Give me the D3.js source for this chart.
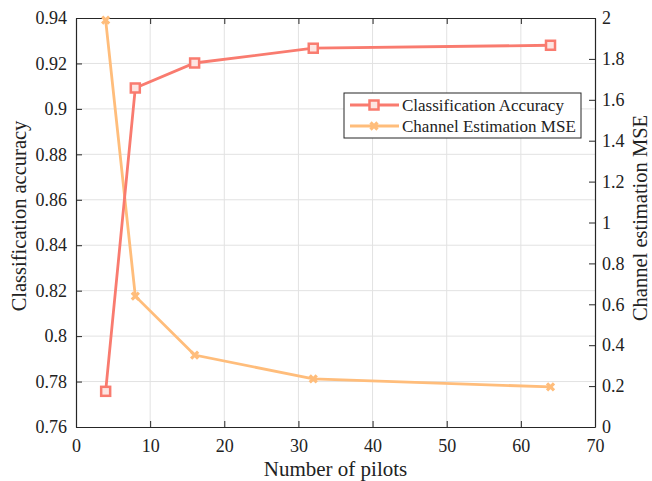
<!DOCTYPE html>
<html>
<head>
<meta charset="utf-8">
<script src="https://cdn.jsdelivr.net/npm/d3@7"></script>
<style>
  body { margin: 0; background: #fff; }
  text { font-family: "Liberation Serif", "Times New Roman", serif; fill: #222; }
</style>
</head>
<body>
<div id="chart"></div>
<script>
// data
const pilots = [4, 8, 16, 32, 64];
const accuracy = [0.7757, 0.9092, 0.9202, 0.9267, 0.9280];
const mse = [1.99, 0.64, 0.352, 0.235, 0.196];

const xTicks = [0, 10, 20, 30, 40, 50, 60, 70];
const yLeftTicks = [0.76, 0.78, 0.8, 0.82, 0.84, 0.86, 0.88, 0.9, 0.92, 0.94];
const yRightTicks = [0, 0.2, 0.4, 0.6, 0.8, 1, 1.2, 1.4, 1.6, 1.8, 2];

const width = 652, height = 481;
const m = { left: 76, right: 57, top: 18, bottom: 54 };
const accColor = "#f97b6f";
const mseColor = "#ffbd7b";

const svg = d3.select("#chart").append("svg")
    .attr("width", width)
    .attr("height", height);

const x = d3.scaleLinear().domain([0, 70]).range([m.left, width - m.right]);
const yL = d3.scaleLinear().domain([0.76, 0.94]).range([height - m.bottom, m.top]);
const yR = d3.scaleLinear().domain([0, 2]).range([height - m.bottom, m.top]);

// grid
const grid = svg.append("g").attr("stroke", "#e2e2e2").attr("stroke-width", 1);
xTicks.slice(1, -1).forEach(t => {
    grid.append("line").attr("x1", x(t)).attr("x2", x(t)).attr("y1", m.top).attr("y2", height - m.bottom);
});
yLeftTicks.slice(1, -1).forEach(t => {
    grid.append("line").attr("x1", m.left).attr("x2", width - m.right).attr("y1", yL(t)).attr("y2", yL(t));
});

// axes (ticks point inwards)
const fmt = d => d3.format("~g")(d);
const axBottom = svg.append("g")
    .attr("transform", `translate(0,${height - m.bottom})`)
    .call(d3.axisBottom(x).tickValues(xTicks).tickSizeInner(-6).tickSizeOuter(0).tickPadding(12).tickFormat(fmt));
const axTop = svg.append("g")
    .attr("transform", `translate(0,${m.top})`)
    .call(d3.axisTop(x).tickValues(xTicks).tickSizeInner(-6).tickSizeOuter(0).tickFormat(""));
const axLeft = svg.append("g")
    .attr("transform", `translate(${m.left},0)`)
    .call(d3.axisLeft(yL).tickValues(yLeftTicks).tickSizeInner(-6).tickSizeOuter(0).tickPadding(9).tickFormat(fmt));
const axRight = svg.append("g")
    .attr("transform", `translate(${width - m.right},0)`)
    .call(d3.axisRight(yR).tickValues(yRightTicks).tickSizeInner(-6).tickSizeOuter(0).tickPadding(7).tickFormat(fmt));

[axBottom, axTop, axLeft, axRight].forEach(g => {
    g.select(".domain").attr("stroke", "#262626").attr("stroke-width", 1.2);
    g.selectAll(".tick line").attr("stroke", "#262626");
    g.selectAll("text").attr("font-size", 18).attr("fill", "#222")
        .style("font-family", "'Liberation Serif', serif");
});

// axis titles
svg.append("text")
    .attr("x", (m.left + width - m.right) / 2)
    .attr("y", 476)
    .attr("text-anchor", "middle")
    .attr("font-size", 21)
    .text("Number of pilots");
svg.append("text")
    .attr("transform", `translate(26,216) rotate(-90)`)
    .attr("text-anchor", "middle")
    .attr("font-size", 20.5)
    .text("Classification accuracy");
svg.append("text")
    .attr("transform", `translate(647,218) rotate(-90)`)
    .attr("text-anchor", "middle")
    .attr("font-size", 20.5)
    .text("Channel estimation MSE");

// lines
const accLine = d3.line().x((d, i) => x(pilots[i])).y(d => yL(d));
const mseLine = d3.line().x((d, i) => x(pilots[i])).y(d => yR(d));

svg.append("path").datum(mse)
    .attr("d", mseLine)
    .attr("fill", "none").attr("stroke", mseColor).attr("stroke-width", 2.8);
svg.append("path").datum(accuracy)
    .attr("d", accLine)
    .attr("fill", "none").attr("stroke", accColor).attr("stroke-width", 2.8);

// markers
function squareMarker(g, cx, cy) {
    g.append("rect")
        .attr("x", cx - 4.5).attr("y", cy - 4.5)
        .attr("width", 9).attr("height", 9)
        .attr("fill", "#fde5e2").attr("stroke", accColor).attr("stroke-width", 2.5);
}
function crossMarker(g, cx, cy) {
    const s = 3.5;
    g.append("path")
        .attr("d", `M${cx - s},${cy - s}L${cx + s},${cy + s}M${cx - s},${cy + s}L${cx + s},${cy - s}`)
        .attr("stroke", mseColor).attr("stroke-width", 3.2).attr("fill", "none");
}
const markers = svg.append("g");
mse.forEach((d, i) => crossMarker(markers, x(pilots[i]), yR(d)));
accuracy.forEach((d, i) => squareMarker(markers, x(pilots[i]), yL(d)));

// legend
const lg = svg.append("g").attr("transform", "translate(344,93)");
lg.append("rect").attr("width", 237).attr("height", 45)
    .attr("fill", "#fff").attr("stroke", "#262626").attr("stroke-width", 1);
const legendItems = [
    { label: "Classification Accuracy", color: accColor, marker: squareMarker },
    { label: "Channel Estimation MSE", color: mseColor, marker: crossMarker }
];
legendItems.forEach((item, i) => {
    const yy = 12 + i * 21;
    lg.append("line").attr("x1", 6).attr("x2", 55).attr("y1", yy).attr("y2", yy)
        .attr("stroke", item.color).attr("stroke-width", 2.8);
    item.marker(lg, 30, yy);
    lg.append("text").attr("x", 58).attr("y", yy + 5.5)
        .attr("font-size", 17).text(item.label);
});
</script>
</body>
</html>
